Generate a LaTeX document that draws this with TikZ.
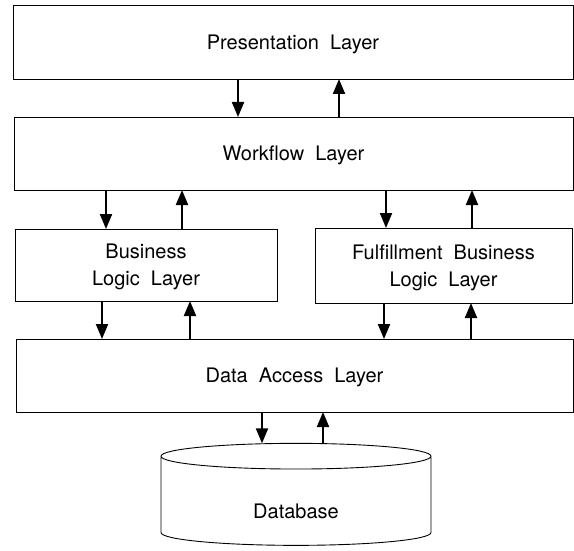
\documentclass[tikz,border=0pt]{standalone}
\usepackage{fontspec}
\setmainfont{TeX Gyre Heros}[WordSpace=2]
\usetikzlibrary{arrows.meta, shapes.geometric, positioning, calc}

\begin{document}
\begin{tikzpicture}[x=1pt, y=1pt,
  >={Triangle[length=15pt, width=12pt]},
  layer/.style={draw, line width=0.9pt, inner sep=0pt, outer sep=0pt,
                align=center, text depth=0pt, font=\fontsize{20}{27}\selectfont},
  flow/.style={->, line width=2pt}]
  \useasboundingbox (0,0) rectangle (574,-551);

  \node[layer, minimum width=560pt, minimum height=74pt] (pres) at (293,-42) {Presentation Layer};
  \node[layer, minimum width=559pt, minimum height=73pt] (work) at (293.5,-153.5) {Workflow Layer};
  \node[layer, minimum width=262pt, minimum height=72pt] (biz) at (146,-265) {Business\\Logic Layer};
  \node[layer, minimum width=257pt, minimum height=75pt] (ful) at (443.5,-265.5) {Fulfillment Business\\Logic Layer};
  \node[layer, minimum width=557pt, minimum height=73pt] (dal) at (294.5,-375.5) {Data Access Layer};
  \node[layer, cylinder, shape border rotate=90, aspect=0.3, text height=34pt,
        minimum width=270pt, minimum height=102pt] (db) at (296,-501) {Database};

  \draw[flow] (pres.south -| 238,0) -- (work.north -| 238,0);
  \draw[flow] (work.north -| 339,0) -- (pres.south -| 339,0);
  \draw[flow] (work.south -| 106,0) -- (biz.north -| 106,0);
  \draw[flow] (biz.north -| 182,0) -- (work.south -| 182,0);
  \draw[flow] (work.south -| 386,0) -- (ful.north -| 386,0);
  \draw[flow] (ful.north -| 472,0) -- (work.south -| 472,0);
  \draw[flow] (biz.south -| 102,0) -- (dal.north -| 102,0);
  \draw[flow] (dal.north -| 190,0) -- (biz.south -| 190,0);
  \draw[flow] (ful.south -| 384,0) -- (dal.north -| 384,0);
  \draw[flow] (dal.north -| 471,0) -- (ful.south -| 471,0);
  \draw[flow] (dal.south -| 262,0) -- (db.north -| 262,0);
  \draw[flow] (db.north -| 323,0) -- (dal.south -| 323,0);
\end{tikzpicture}
\end{document}
